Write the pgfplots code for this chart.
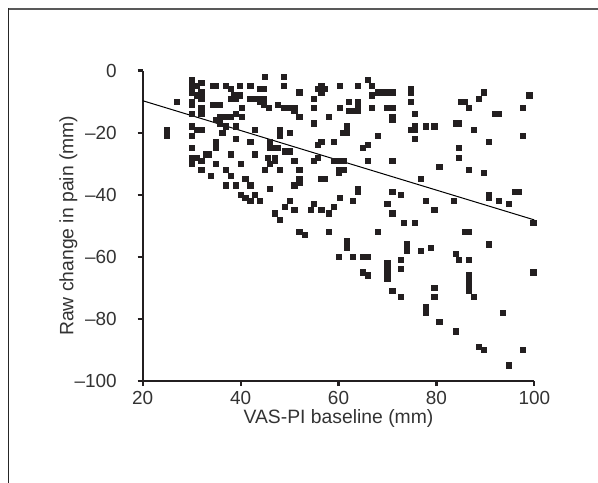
\documentclass[border=0pt]{standalone}
\usepackage{fontspec}
\setmainfont{Liberation Sans}
\usepackage{pgfplots}
\usepackage{pgfplotstable}
\pgfplotsset{compat=1.18}
\definecolor{txt}{HTML}{333333}
\definecolor{mk}{HTML}{231F20}

% VAS-PI baseline vs raw change in pain
\pgfplotstableread{
x y
25 -19
25 -21
27 -10
30 -3
30 -5
30 -7
30 -10
30 -11
30 -14
30 -18
30 -21
30 -25
30 -28
30 -30
31 -5
31 -8
31 -19
31 -28
32 -4
32 -7
32 -9
32 -12
32 -14
32 -19
32 -29
32 -32
33 -27
33.6 -27
34 -34
34.3 -5
34.3 -11
35 -5
35 -11
35 -16
35 -23
35 -25
35 -30
35.8 -11
35.8 -15
35.8 -17
36.3 -20
37 -5
37 -15
37 -18
37 -32
37 -37
38 -6
38 -9
38 -15
38 -27
38 -34
38.6 -8
39 -9
39 -14
39 -18
39 -22
39 -37
39.8 -5
39.8 -8
40.2 -12
40.2 -15
40 -30
40 -40
41 -35
41 -41
42 -5
42 -9
42 -23
42 -37
42 -42
43 -9
43 -19
43 -27
43 -40
44 -6
44 -9
44 -10
44 -42
44.7 -6
44.7 -9
44.7 -11
45 -2
45 -32
45.5 -28
45.8 -12
46 -23
46 -25
46 -30
46 -38
47 -25
47 -28
47 -29
47 -46
47.6 -11
47.6 -25
48 -19
48 -20
48 -21
48 -32
48 -48
48.8 -2
48.8 -5
48.8 -12
49 -26
49 -44
50 -12
50 -20
50 -26
50 -42
51 -12
51 -13
51 -29
51 -37
51 -45
52 -7
52 -15
52 -32
52 -35
52 -36
52 -52
53.2 -53
54.3 -45
55 -9
55 -12
55 -17
55 -29
55 -43
55.8 -6
55.8 -24
55.8 -28
56.5 -5
56.5 -7
56.5 -23
56.5 -35
56.5 -45
57.3 -6
57.3 -35
58 -15
58 -46
58 -52
59 -23
59 -29
59 -44
59.8 -29
60 -32
60 -33
60 -60
60.3 -5
60.3 -12
60.3 -41
61 -20
61 -29
61 -32
61.7 -18
61.7 -20
61.7 -55
61.7 -57
62.2 -10
62.2 -13
63 -13
63 -42
63 -60
64 -5
64 -10
64 -11
64 -13
64 -38
64 -39
65 -25
65 -60
65 -65
66 -3
66 -24
66 -29
66 -60
66 -66
66.8 -5
66.8 -8
66.8 -12
68 -7
68 -21
68 -52
68.6 -7
69.4 -7
70 -7
70 -12
70 -43
70 -62
70 -64
70 -65
70 -67
71 -7
71 -12
71 -15
71 -16
71 -29
71 -39
71 -46
71 -71
72.8 -40
72.8 -61
72.8 -64
72.8 -73
73.4 -49
74 -56
74 -58
74.8 -6
74.8 -7
74.8 -10
74.8 -19
75.6 -14
75.6 -18
75.6 -19
75.6 -22
75.6 -49
76.8 -35
76.8 -58
77.8 -18
77.8 -42
77.8 -76
77.8 -77
77.8 -78
78.8 -57
79.6 -18
79.6 -45
79.6 -70
79.6 -73
80.6 -31
80.6 -81
83.5 -42
84 -84
84 -17
84 -59
84.6 -17
84.6 -25
84.6 -28
84.6 -61
85 -10
85.8 -10
85.8 -52
86.7 -12
86.7 -32
86.7 -52
86.7 -61
86.7 -66
86.7 -68
86.7 -69
86.7 -71
87.7 -19
87.7 -73
88.7 -9
88.7 -89
89.7 -7
89.7 -33
89.7 -90
90.7 -23
90.7 -40
90.7 -41
90.7 -56
91.9 -14
92.8 -14
92.8 -42
93.6 -78
94.8 -43
94.8 -95
96 -39
96.9 -39
97.7 -12
97.7 -21
97.7 -90
99 -8
99.8 -49
99.8 -65
}\vasdata

\begin{document}
\begin{tikzpicture}[x=1bp,y=1bp]
\path[use as bounding box] (0,0) rectangle (299,241.5);
\draw[black!65, line width=1bp] (4,237) -- (299,237);
\draw[black!85, line width=0.5bp] (4.15,237.5) -- (4.15,0);
\begin{axis}[
  at={(71.35bp,51bp)}, anchor=south west,
  width=195.8bp, height=155.2bp, scale only axis,
  xmin=20, xmax=100, ymin=-100, ymax=0,
  clip=false,
  axis x line*=bottom, axis y line*=left,
  axis line style={line width=1.1bp, mk},
  xtick={20,40,...,100}, ytick={-100,-80,...,0},
  xticklabels={20,40,60,80,100},
  yticklabels={\textendash100,\textendash80,\textendash60,\textendash40,\textendash20,0},
  tick align=outside, major tick length=2.5bp,
  tick style={line width=1.1bp, mk},
  ticklabel style={font=\fontsize{9.5}{11}\selectfont, text=txt},
  xticklabel style={anchor=center, yshift=-6bp},
  yticklabel style={anchor=east, xshift=-7bp},
  xlabel={VAS-PI baseline (mm)}, ylabel={Raw change in pain (mm)},
  label style={font=\fontsize{9.7}{11}\selectfont, text=txt},
  xlabel style={at={(axis description cs:0.5,-0.12)}, anchor=center},
  ylabel style={at={(axis description cs:-0.19,0.5)}, anchor=center},
]
\addplot[only marks, mark=square*, mark size=1.3bp, mk, mark options={draw=mk, fill=mk}] table[x=x, y=y] {\vasdata};
\addplot[black, line width=0.5bp] coordinates {(20,-9.7) (100,-48.1)};
\end{axis}
\end{tikzpicture}
\end{document}
